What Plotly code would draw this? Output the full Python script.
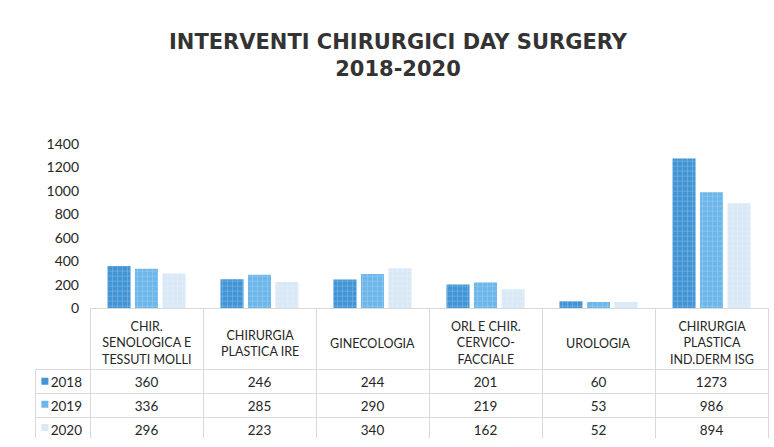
import plotly.graph_objects as go

categories = ["CHIR.<br>SENOLOGICA E<br>TESSUTI MOLLI", "CHIRURGIA<br>PLASTICA IRE", "GINECOLOGIA",
              "ORL E CHIR.<br>CERVICO-<br>FACCIALE", "UROLOGIA", "CHIRURGIA<br>PLASTICA<br>IND.DERM ISG"]
years = ["2018", "2019", "2020"]
v2018 = [360, 246, 244, 201, 60, 1273]
v2019 = [336, 285, 290, 219, 53, 986]
v2020 = [296, 223, 340, 162, 52, 894]
yticks = [0, 200, 400, 600, 800, 1000, 1200, 1400]

series = [v2018, v2019, v2020]
colors = ["#4294d4", "#6db6ea", "#d8e8f6"]
fgcols = ["#a8d2f2", "#b5dcf6", "#eef5fb"]

W, H = 774, 447
x0, x1 = 90, 768
y0, y1 = 311, 140
tbl_left = 35
hdr_h = 61
row_h = 24
tbl_bottom = y0 + hdr_h + row_h * len(years)

FONT = "Lato"
TXT = "#262626"
LINE = "#d9d9d9"
CLEAR = "rgba(0,0,0,0)"

fig = go.Figure()
cat_keys = [f"c{i}" for i in range(len(categories))]
for yr, vals, c, fg in zip(years, series, colors, fgcols):
    fig.add_trace(go.Bar(
        x=cat_keys, y=vals, name=yr,
        marker=dict(color=c, line=dict(width=0),
                    pattern=dict(shape="+", size=5, solidity=0.25, fgcolor=fg, bgcolor=c)),
        showlegend=False, hoverinfo="skip"))

# legend keys inside the table's first column
fig.add_trace(go.Scatter(
    x=[0.18] * len(years), y=years, xaxis="x2", yaxis="y2", mode="markers",
    marker=dict(symbol="square", size=7, color=colors, line=dict(width=0)),
    showlegend=False, hoverinfo="skip"))

# table
cells = [years]
for i in range(len(categories)):
    cells.append([str(s[i]) for s in series])

ncol = len(categories) + 1
colw = [x0 - tbl_left] + [(x1 - x0) / len(categories)] * len(categories)
fig.add_trace(go.Table(
    domain=dict(x=[tbl_left / W, x1 / W], y=[0, (H - y0) / H]),
    columnwidth=colw,
    header=dict(values=[""] * ncol, height=hdr_h,
                line=dict(color=[CLEAR] + [LINE] * len(categories), width=1),
                fill=dict(color=[CLEAR] + ["white"] * len(categories))),
    cells=dict(values=cells, height=row_h, align=["right"] + ["center"] * len(categories),
               line=dict(color=LINE, width=1), fill=dict(color=CLEAR),
               font=dict(family=FONT, size=13.5, color=TXT)),
))

# header labels placed on the category axis
for k, lab in zip(cat_keys, categories):
    fig.add_annotation(x=k, xref="x", y=1 - (y0 + hdr_h / 2 + 6) / H, yref="paper",
                       text=lab, showarrow=False, yanchor="middle",
                       font=dict(family=FONT, size=12.5, color=TXT), align="center")

fig.update_layout(
    width=W, height=H, margin=dict(l=0, r=0, t=0, b=0),
    paper_bgcolor="white", plot_bgcolor=CLEAR,
    barmode="group", bargap=0.27, bargroupgap=0.16,
    title=dict(text="INTERVENTI CHIRURGICI DAY SURGERY<br>2018-2020",
               x=398 / W, xanchor="center", y=1 - 49 / H, yanchor="middle",
               font=dict(family="DejaVu Sans", size=21, color="#333333", weight="bold")),
    xaxis=dict(domain=[x0 / W, x1 / W], showticklabels=False, showgrid=False,
               zeroline=False, showline=False, ticks="", fixedrange=True),
    yaxis=dict(domain=[1 - y0 / H, 1 - y1 / H], range=[0, 1400], tickvals=yticks,
               showgrid=False, zeroline=False, showline=False, ticks="",
               tickfont=dict(family=FONT, size=14, color=TXT), ticklabelstandoff=10,
               fixedrange=True),
    xaxis2=dict(domain=[tbl_left / W, x0 / W], range=[0, 1], visible=False, fixedrange=True),
    yaxis2=dict(domain=[(H - tbl_bottom - 3) / H, (H - y0 - hdr_h - 3) / H], type="category",
                categoryorder="array", categoryarray=years[::-1], range=[-0.5, len(years) - 0.5],
                visible=False, fixedrange=True),
)

fig.write_html("out.html", config={"displayModeBar": False},
               post_script="document.body.style.margin='0';")
